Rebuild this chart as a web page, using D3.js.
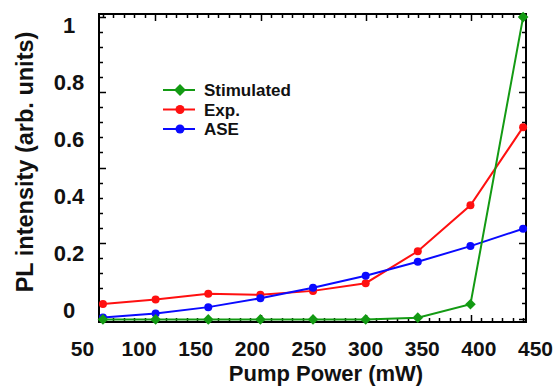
<!DOCTYPE html>
<html>
<head>
<meta charset="utf-8">
<script src="https://cdn.jsdelivr.net/npm/d3@7"></script>
<style>
  html, body { margin: 0; padding: 0; background: #fff; }
  svg { display: block; }
  text { font-family: "Liberation Sans", Arial, sans-serif; font-weight: bold; fill: #111; }
</style>
</head>
<body>
<svg id="chart" width="555" height="392"></svg>
<script>
// Pump power (mW) for each measurement
const pumpPower = [68.5, 115, 161.5, 207.5, 254, 300.5, 346.5, 393, 439.5];

// Normalised PL intensity per series
const stimulated = [-0.034, -0.034, -0.034, -0.034, -0.034, -0.034, -0.028, 0.019, 1.026];
const experiment = [0.020, 0.036, 0.056, 0.052, 0.066, 0.093, 0.205, 0.366, 0.640];
const ase        = [-0.027, -0.013, 0.009, 0.040, 0.077, 0.119, 0.168, 0.223, 0.284];

// Axis tick labels
const xTickLabels = [50, 100, 150, 200, 250, 300, 350, 400, 450];
const yTickLabels = [0, 0.2, 0.4, 0.6, 0.8, 1];

const seriesNames  = ["Stimulated", "Exp.", "ASE"];
const seriesColors = ["#139a13", "#ff1010", "#0a0aff"];

const svg = d3.select("#chart");

// Plot frame
const frame = { left: 99, right: 526, top: 14, bottom: 322 };

const x = d3.scaleLinear().domain([50, 450]).range([82, 535]);
const y = d3.scaleLinear().domain([0, 1]).range([309.7, 24.5]);

// Frame tick scales: one step per measurement horizontally, regular steps vertically
const xf = d3.scaleLinear().domain([0, pumpPower.length - 1])
  .range([x(pumpPower[0]), x(pumpPower[pumpPower.length - 1])]);
const yf = d3.scaleLinear().domain([0, 4]).range([318.5, 16.5]);

const isInt = v => Math.abs(v - Math.round(v)) < 1e-6;
const majorX = [1, 3, 5, 7];
const minorX = d3.range(0, 8.001, 0.2).filter(v => !(isInt(v) && Math.round(v) % 2 === 1));
const majorY = [0, 1, 2, 3, 4];
const minorY = d3.range(0, 4.001, 0.2).filter(v => !isInt(v));

// Inward ticks on all four sides of the frame
const ticks = svg.append("g").attr("stroke", "#000").attr("stroke-width", 1.5);
function hTicks(values, len) {
  values.forEach(v => {
    const px = Math.round(xf(v)) + 0.5;
    ticks.append("line").attr("x1", px).attr("x2", px)
      .attr("y1", frame.bottom).attr("y2", frame.bottom - len);
    ticks.append("line").attr("x1", px).attr("x2", px)
      .attr("y1", frame.top).attr("y2", frame.top + len);
  });
}
function vTicks(values, len) {
  values.forEach(v => {
    const py = Math.round(yf(v)) + 0.5;
    ticks.append("line").attr("y1", py).attr("y2", py)
      .attr("x1", frame.left).attr("x2", frame.left + len);
    ticks.append("line").attr("y1", py).attr("y2", py)
      .attr("x1", frame.right).attr("x2", frame.right - len);
  });
}
hTicks(minorX, 4);
hTicks(majorX, 7);
vTicks(minorY, 4);
vTicks(majorY, 7);

// frame border
svg.append("rect")
  .attr("x", frame.left).attr("y", frame.top)
  .attr("width", frame.right - frame.left).attr("height", frame.bottom - frame.top)
  .attr("fill", "none").attr("stroke", "#000").attr("stroke-width", 2);

// X tick labels
const xAxis = svg.append("g")
  .attr("transform", `translate(0,${frame.bottom})`)
  .call(d3.axisBottom(x).tickValues(xTickLabels).tickSize(0).tickPadding(0).tickFormat(d3.format("d")));
xAxis.select(".domain").remove();
xAxis.selectAll("text")
  .attr("y", 34).attr("dy", 0)
  .style("font-size", "21px").style("font-family", "'Liberation Sans', Arial, sans-serif")
  .style("font-weight", "bold").attr("fill", "#111");

// Y tick labels (centred in the left margin)
const yAxis = svg.append("g")
  .attr("transform", "translate(69,0)")
  .call(d3.axisLeft(y).tickValues(yTickLabels).tickSize(0).tickPadding(0)
    .tickFormat(d => d === 0 || d === 1 ? d3.format("d")(d) : d3.format(".1f")(d)));
yAxis.select(".domain").remove();
yAxis.selectAll("text")
  .attr("x", 0).attr("text-anchor", "middle").attr("dy", "0.36em")
  .style("font-size", "22px").style("font-family", "'Liberation Sans', Arial, sans-serif")
  .style("font-weight", "bold").attr("fill", "#111");

// Axis titles
svg.append("text")
  .attr("x", 326).attr("y", 381)
  .attr("text-anchor", "middle")
  .style("font-size", "22px")
  .text("Pump Power (mW)");

svg.append("text")
  .attr("transform", "translate(33,162) rotate(-90)")
  .attr("text-anchor", "middle")
  .style("font-size", "23.5px")
  .text("PL intensity (arb. units)");

// Series
const series = [
  { name: seriesNames[1], color: seriesColors[1], values: experiment, marker: "circle" },
  { name: seriesNames[2], color: seriesColors[2], values: ase, marker: "circle" },
  { name: seriesNames[0], color: seriesColors[0], values: stimulated, marker: "diamond" }
];

const line = d3.line().x(d => x(d[0])).y(d => y(d[1]));
const diamond = d3.symbol().type(d3.symbolDiamond2).size(72);

series.forEach(s => {
  const pts = pumpPower.map((p, i) => [p, s.values[i]]);
  svg.append("path")
    .attr("d", line(pts))
    .attr("fill", "none").attr("stroke", s.color).attr("stroke-width", 2);
  if (s.marker === "circle") {
    svg.selectAll(null).data(pts).enter().append("circle")
      .attr("cx", d => x(d[0])).attr("cy", d => y(d[1])).attr("r", 4)
      .attr("fill", s.color);
  } else {
    svg.selectAll(null).data(pts).enter().append("path")
      .attr("d", diamond)
      .attr("transform", d => `translate(${x(d[0])},${y(d[1])})`)
      .attr("fill", s.color);
  }
});

// Legend
const legend = svg.append("g").attr("transform", "translate(163,90)");
const legendMarkers = ["diamond", "circle", "circle"];
seriesNames.forEach((name, i) => {
  const g = legend.append("g").attr("transform", `translate(0,${i * 19.5})`);
  g.append("line").attr("x1", 0).attr("x2", 32).attr("y1", 0).attr("y2", 0)
    .attr("stroke", seriesColors[i]).attr("stroke-width", 2);
  if (legendMarkers[i] === "diamond") {
    g.append("path").attr("d", d3.symbol().type(d3.symbolDiamond2).size(90)())
      .attr("transform", "translate(17,0)").attr("fill", seriesColors[i]);
  } else {
    g.append("circle").attr("cx", 17).attr("cy", 0).attr("r", 4.5).attr("fill", seriesColors[i]);
  }
  g.append("text").attr("x", 41).attr("y", 0).attr("dy", "0.36em")
    .style("font-size", "17px").text(name);
});
</script>
</body>
</html>
